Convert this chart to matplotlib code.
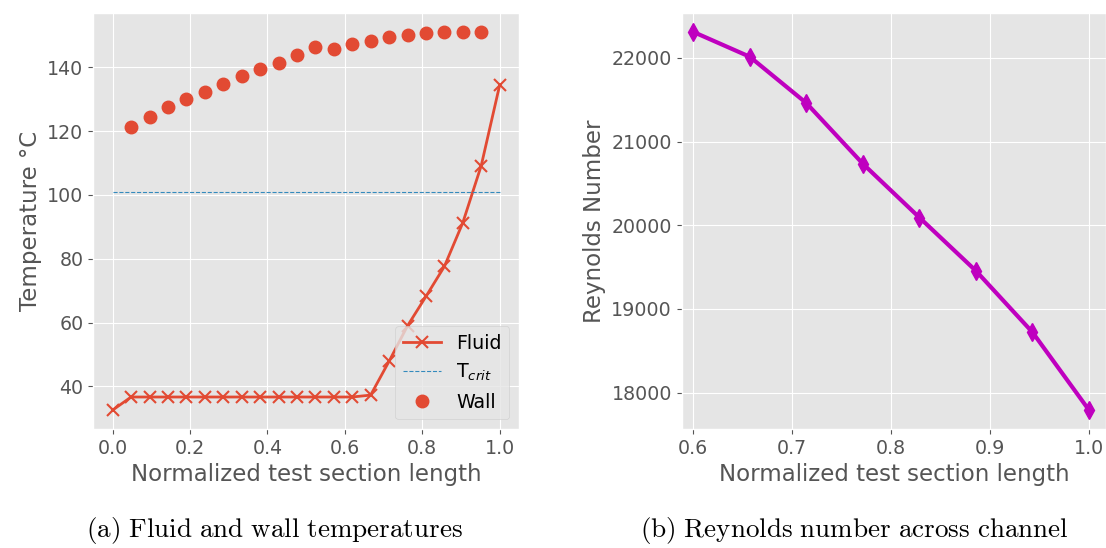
import numpy as np
import matplotlib
matplotlib.use('Agg')
from matplotlib import pyplot as plt

plt.style.use('ggplot')
plt.rcParams['font.size'] = 13.7

# Panel (a): temperaturas a lo largo del canal
n_puntos = 22
x_fluido = np.arange(n_puntos) / (n_puntos - 1)
t_fluido = [32.6, 36.7, 36.7, 36.7, 36.7, 36.7, 36.7, 36.7, 36.7, 36.7, 36.7,
            36.7, 36.7, 36.7, 37.3, 47.9, 59.0, 68.2, 77.6, 91.3, 109.2, 134.4]
x_pared = x_fluido[1:21]
t_pared = [121.3, 124.5, 127.6, 130.0, 132.3, 134.8, 137.3, 139.4, 141.5, 143.8,
           146.3, 145.8, 147.3, 148.3, 149.4, 150.1, 150.7, 151.1, 151.1, 151.0]
t_crit = 101.0

# Panel (b): numero de Reynolds
x_re = np.linspace(0.6, 1.0, 8)
reynolds = [22309, 22012, 21459, 20734, 20092, 19455, 18722, 17792]

fig = plt.figure(figsize=(11.06, 5.48), dpi=100)
ax1 = fig.add_axes([93.3 / 1106, 1 - 429 / 548, (519 - 93.3) / 1106, (429 - 13) / 548])
ax2 = fig.add_axes([681.7 / 1106, 1 - 429 / 548, (1106 - 681.7) / 1106, (429 - 13) / 548])

ax1.plot(x_fluido, t_fluido, '-x', color='#E24A33', lw=2, ms=9, mew=1.5, label='Fluid')
ax1.plot([0, 1], [t_crit, t_crit], '--', color='#348ABD', lw=0.8, label=r'T$_{crit}$')
ax1.plot(x_pared, t_pared, 'o', color='#E24A33', ms=9, label='Wall')
ax1.set_xlabel('Normalized test section length')
ax1.set_ylabel('Temperature °C')
ax1.legend(loc='lower right')

ax2.plot(x_re, reynolds, '-d', color='m', lw=3, ms=9)
ax2.set_xlim(0.5883, 1.0172)
ax2.set_xlabel('Normalized test section length')
ax2.set_ylabel('Reynolds Number')

# Subtitulos estilo LaTeX
fig.text(274 / 1106, 1 - 530 / 548, r'$\mathrm{(a)\ Fluid\ and\ wall\ temperatures}$',
         ha='center', va='center', fontsize=19.5, color='black', math_fontfamily='cm')
fig.text(854 / 1106, 1 - 530 / 548, r'$\mathrm{(b)\ Reynolds\ number\ across\ channel}$',
         ha='center', va='center', fontsize=19.5, color='black', math_fontfamily='cm')

fig.savefig('out.png', dpi=100, facecolor='white')
